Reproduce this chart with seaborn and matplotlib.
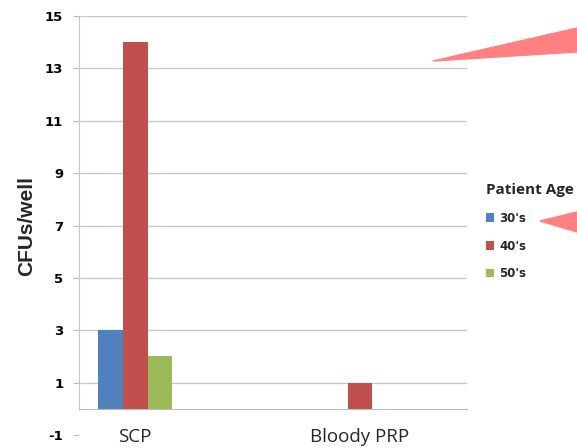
import numpy as np
import pandas as pd
import matplotlib.pyplot as plt
import seaborn as sns
from matplotlib.patches import Polygon

# ----------------------
# Data
categories = ['SCP', 'Bloody PRP']
ages = ["30's", "40's", "50's"]
cfu_30s = [3, 0]
cfu_40s = [14, 1]
cfu_50s = [2, 0]
colors = ['#4F81BD', '#C0504D', '#9BBB59']

df = pd.DataFrame({
    'group': categories * 3,
    'age': [a for a in ages for _ in categories],
    'cfu': cfu_30s + cfu_40s + cfu_50s,
})

# ----------------------
sns.set_style('white')
plt.rcParams['font.family'] = ['Liberation Sans', 'DejaVu Sans']
plt.rcParams.update({
    'axes.unicode_minus': False,
    'xtick.labelsize': 13.5,
    'ytick.labelsize': 9.5,
    'xtick.major.pad': 10,
    'ytick.major.pad': 7,
    'ytick.major.size': 4.3,
    'ytick.left': True,
    'ytick.direction': 'out',
    'ytick.color': '#BBBBBB',
    'ytick.labelcolor': 'black',
    'xtick.bottom': False,
})

fig = plt.figure(figsize=(5.77, 4.48), dpi=100)
W, H = 577, 448
ax = fig.add_axes([79 / W, 1 - 435 / H, (467 - 79) / W, (435 - 16) / H])

sns.barplot(data=df, x='group', y='cfu', hue='age', order=categories,
            hue_order=ages, palette=colors, width=0.33, saturation=1,
            linewidth=0, ax=ax, legend=True)

ax.set_ylim(-1, 15)
ax.set_xlim(-0.25, 1.476)
ax.set_yticks(np.arange(-1, 16, 2))
ax.yaxis.grid(True, color='#C8C8C8', linewidth=1)
ax.get_ygridlines()[0].set_visible(False)
ax.set_axisbelow(True)

for s in ['top', 'right']:
    ax.spines[s].set_visible(False)
ax.spines['left'].set_bounds(0, 15)
ax.spines['left'].set_color('#C8C8C8')
ax.spines['bottom'].set_position(('data', 0))
ax.spines['bottom'].set_color('#BBBBBB')

ax.set_xlabel('')
ax.set_ylabel('CFUs/well', fontsize=15, fontweight='bold', labelpad=6)

fig.canvas.draw()
for lab in ax.get_yticklabels():
    lab.set_fontweight('heavy')
    lab.set_fontfamily(['DejaVu Sans'])
for lab in ax.get_xticklabels():
    lab.set_fontfamily(['Open Sans', 'DejaVu Sans'])

# ----------------------
# Legend to the right
handles, labels = ax.get_legend_handles_labels()
ax.get_legend().remove()
leg = fig.legend(handles, labels, title='Patient Age', loc='upper left',
                 bbox_to_anchor=(486 / W, 1 - 183 / H), frameon=False,
                 borderpad=0, borderaxespad=0,
                 handlelength=0.7, handleheight=0.7, handletextpad=0.4,
                 labelspacing=1.25,
                 prop={'weight': 'heavy', 'size': 8.5, 'family': 'DejaVu Sans'},
                 alignment='left')
leg.get_title().set_fontweight('bold')
leg.get_title().set_fontsize(11)
leg.get_title().set_fontfamily(['Open Sans', 'DejaVu Sans'])

# ----------------------
# Red pointer wedges at the right edge
def px(x, y):
    return (x / W, 1 - y / H)

fig.patches.append(Polygon([px(433, 61), px(577, 28), px(577, 52)],
                           closed=True, color='#FF8080',
                           transform=fig.transFigure, figure=fig))
fig.patches.append(Polygon([px(540, 221), px(577, 212), px(577, 232)],
                           closed=True, color='#FF8080',
                           transform=fig.transFigure, figure=fig))

fig.savefig('out.png', dpi=100)
